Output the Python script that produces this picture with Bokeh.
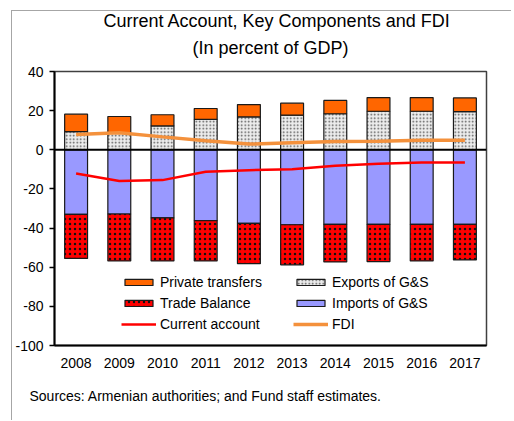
from bokeh.plotting import figure
from bokeh.models import (Range1d, FactorRange, Span, Legend, LegendItem, Title,
                          ColumnDataSource, FixedTicker, PrintfTickFormatter)
from bokeh.embed import file_html
from bokeh.resources import INLINE

years = ["2008", "2009", "2010", "2011", "2012", "2013", "2014", "2015", "2016", "2017"]
exports = [9.3, 8.8, 12.2, 15.5, 16.8, 17.7, 18.4, 19.7, 19.7, 19.5]
transfers = [8.9, 8.2, 5.7, 5.6, 6.3, 6.1, 6.8, 7.0, 7.0, 7.0]
imports = [-33.0, -32.8, -34.8, -36.2, -37.6, -38.3, -38.1, -38.1, -38.1, -38.1]
trade = [-22.5, -24.0, -22.0, -20.6, -20.6, -20.5, -19.2, -19.0, -18.7, -18.2]
current_account = [-12.1, -16.0, -15.5, -11.2, -10.4, -9.9, -8.2, -7.1, -6.5, -6.5]
fdi = [7.8, 8.7, 6.6, 4.6, 2.9, 3.6, 4.2, 4.4, 4.9, 4.9]
y_ticks = [40, 20, 0, -20, -40, -60, -80, -100]

FONT = "Liberation Sans"

src = ColumnDataSource(dict(years=years, exports=exports, transfers=transfers,
                            imports=imports, trade=trade, ca=current_account, fdi=fdi))

p = figure(x_range=FactorRange(*years, range_padding=0), y_range=Range1d(-100, 40),
           width=500, height=410, output_backend="svg", toolbar_location=None,
           min_border_left=42, min_border_right=26, min_border_top=60, min_border_bottom=76)
p.margin = (10, 0, 0, 11)
p.styles = {"border-left": "1px solid #a6a6a6", "border-top": "1px solid #a6a6a6"}

p.xgrid.visible = False
p.ygrid.visible = False
p.outline_line_color = "#404040"
p.outline_line_width = 1.5

pos = p.vbar_stack(["exports", "transfers"], x="years", width=0.53, source=src,
                   fill_color=["#ececec", "#ff6600"], line_color="#1a1a1a", line_width=1.2,
                   hatch_pattern=["dot", " "], hatch_color="#555555", hatch_scale=3.5, hatch_weight=1.2)
neg = p.vbar_stack(["imports", "trade"], x="years", width=0.53, source=src,
                   fill_color=["#9999ff", "#ff0000"], line_color="#1a1a1a", line_width=1.2,
                   hatch_pattern=[" ", "dot"], hatch_color="#111111", hatch_scale=5, hatch_weight=1.5)

p.add_layout(Span(location=0, dimension="width", line_color="black", line_width=2))

ca_line = p.line("years", "ca", source=src, line_color="#ff0000", line_width=2.5)
fdi_line = p.line("years", "fdi", source=src, line_color="#f4913c", line_width=3.5)

legend = Legend(items=[
    LegendItem(label="Private transfers", renderers=[pos[1]]),
    LegendItem(label="Exports of G&S", renderers=[pos[0]]),
    LegendItem(label="Trade Balance", renderers=[neg[1]]),
    LegendItem(label="Imports of G&S", renderers=[neg[0]]),
    LegendItem(label="Current account", renderers=[ca_line]),
    LegendItem(label="FDI", renderers=[fdi_line]),
], location=(67, 11), orientation="horizontal", ncols=2,
    glyph_width=35, glyph_height=8, label_width=132, label_height=20, label_standoff=4,
    spacing=1, padding=0, margin=0, border_line_alpha=0, background_fill_alpha=0,
    label_text_font=FONT, label_text_font_size="14px", label_text_color="black")
p.add_layout(legend, "center")

p.yaxis.ticker = FixedTicker(ticks=y_ticks)
p.yaxis.formatter = PrintfTickFormatter(format="%d")
p.yaxis.axis_line_color = "black"
p.yaxis.axis_line_width = 2
p.yaxis.major_tick_out = 5
p.yaxis.major_tick_in = 0
p.yaxis.major_tick_line_width = 1.5
p.yaxis.minor_tick_line_color = None
p.yaxis.major_label_standoff = 6
p.yaxis.major_label_text_font = FONT
p.yaxis.major_label_text_font_size = "14px"
p.yaxis.major_label_text_color = "black"

p.xaxis.axis_line_color = "black"
p.xaxis.axis_line_width = 2
p.xaxis.major_tick_line_color = None
p.xaxis.major_tick_out = 0
p.xaxis.major_label_standoff = 12
p.xaxis.major_label_text_font = FONT
p.xaxis.major_label_text_font_size = "14px"
p.xaxis.major_label_text_color = "black"

p.add_layout(Title(text="Sources: Armenian authorities; and Fund staff estimates.", align="left",
                   offset=-25, standoff=31, text_font=FONT, text_font_size="14px",
                   text_font_style="normal", text_color="black"), "below")
p.add_layout(Title(text="(In percent of GDP)", align="left", offset=138, standoff=28,
                   text_font=FONT, text_font_size="18px", text_font_style="normal",
                   text_color="black"), "above")
p.add_layout(Title(text="Current Account, Key Components and FDI", align="left", offset=49,
                   standoff=-18, text_font=FONT, text_font_size="18px", text_font_style="normal",
                   text_color="black"), "above")

open("out.html", "w").write(file_html(p, INLINE))
